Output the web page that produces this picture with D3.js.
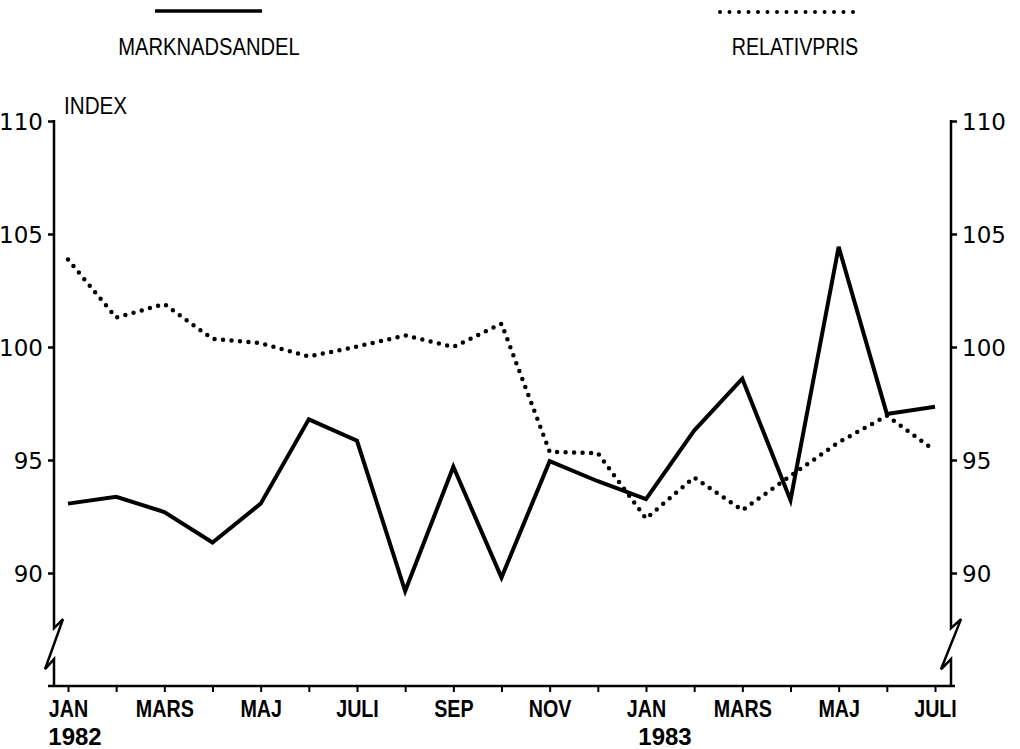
<!DOCTYPE html>
<html><head><meta charset="utf-8">
<script src="https://cdn.jsdelivr.net/npm/d3@7"></script>
<style>
body{margin:0;background:#fff}
.num{font-family:"DejaVu Sans",sans-serif;font-size:23px;fill:#000}
.lab{font-family:"Liberation Sans",sans-serif;font-size:24px;fill:#000}
.mon{font-family:"Liberation Sans",sans-serif;font-size:24px;font-weight:bold;fill:#000}
</style>
</head><body><svg id="c" width="1020" height="749"></svg>
<script>
// ---- data ----
const monthLabels = ["JAN","","MARS","","MAJ","","JULI","","SEP","","NOV","","JAN","","MARS","","MAJ","","JULI"];
const yearIndex = [0, 12];
const yearLabels = ["1982", "1983"];
const marknadsandel = [93.07,93.37,92.7,91.35,93.07,96.8,95.85,89.2,94.7,89.8,94.95,94.06,93.27,96.3,98.6,93.22,104.43,97.04,97.36];
const relativpris   = [103.87,101.3,101.9,100.36,100.17,99.58,100.02,100.51,100.0,101.03,95.37,95.3,92.41,94.23,92.78,94.3,95.78,96.96,95.41];
const yTicks = [90, 95, 100, 105, 110];
const seriesNames = ["MARKNADSANDEL", "RELATIVPRIS"];
const yAxisTitle = "INDEX";

// ---- layout ----
const svg = d3.select("#c");
const xL = 54, xR = 951;
const x = d3.scaleLinear().domain([0, monthLabels.length - 1]).range([68, 935]);
const y = d3.scaleLinear().domain([85, 110]).range([686, 121]);
const line = d3.line().x((d, i) => x(i)).y(d => y(d));

function condense(sel, k) {
  sel.each(function () {
    const w = this.getComputedTextLength();
    if (w > 0) d3.select(this).attr("textLength", w * k).attr("lengthAdjust", "spacingAndGlyphs");
  });
}

// left axis
const gl = svg.append("g").attr("transform", `translate(${xL},0)`)
  .call(d3.axisLeft(y).tickValues(yTicks).tickSize(6).tickPadding(5).tickFormat(d3.format("d")));
gl.select(".domain").remove();
gl.selectAll(".tick line").attr("stroke", "#000").attr("stroke-width", 2.5);
gl.selectAll(".tick text").attr("class", "num").attr("dy", "0.36em");

// right axis
const gr = svg.append("g").attr("transform", `translate(${xR},0)`)
  .call(d3.axisRight(y).tickValues(yTicks).tickSize(6).tickPadding(5).tickFormat(d3.format("d")));
gr.select(".domain").remove();
gr.selectAll(".tick line").attr("stroke", "#000").attr("stroke-width", 2.5);
gr.selectAll(".tick text").attr("class", "num").attr("dy", "0.36em");

// vertical axis lines with break
function brokenAxis(x0, w) {
  const p = d3.path();
  p.moveTo(x0, y(110) - 1);
  p.lineTo(x0, y(87.56));
  p.lineTo(x0 + w, y(87.96));
  p.lineTo(x0 - w, y(85.74));
  p.lineTo(x0, y(86.19));
  p.lineTo(x0, y(85) + 1);
  return p.toString();
}
svg.append("path").attr("d", brokenAxis(xL, 9)).attr("fill", "none").attr("stroke", "#000").attr("stroke-width", 2.5);
svg.append("path").attr("d", brokenAxis(xR, 10)).attr("fill", "none").attr("stroke", "#000").attr("stroke-width", 2.5);

// bottom axis
const gb = svg.append("g").attr("transform", `translate(0,${y(85)})`)
  .call(d3.axisBottom(x).tickValues(d3.range(monthLabels.length)).tickSize(6).tickPadding(8).tickFormat(i => monthLabels[i]));
gb.select(".domain").remove();
gb.selectAll(".tick line").attr("stroke", "#000").attr("stroke-width", 2);
gb.selectAll(".tick text").attr("class", "mon");
condense(gb.selectAll(".tick text"), 0.82);
svg.append("line").attr("x1", xL - 6).attr("x2", xR + 4).attr("y1", y(85)).attr("y2", y(85))
  .attr("stroke", "#000").attr("stroke-width", 2.5);

// year labels
const yearOffset = [7, 19];
svg.selectAll(".yr").data(yearLabels).join("text")
  .attr("class", "lab yr").attr("text-anchor", "middle")
  .attr("x", (d, i) => x(yearIndex[i]) + yearOffset[i]).attr("y", 745)
  .style("font-size", "24px").style("font-weight", "bold").text(d => d);

// axis title
const title = svg.append("text").attr("class", "lab").attr("x", 64).attr("y", 114).text(yAxisTitle);
condense(title, 0.86);

// series
svg.append("path").attr("d", line(relativpris)).attr("fill", "none").attr("stroke", "#000")
  .attr("stroke-width", 4.5).attr("stroke-linecap", "round").attr("stroke-dasharray", "0 8.5");
svg.append("path").attr("d", line(marknadsandel)).attr("fill", "none").attr("stroke", "#000")
  .attr("stroke-width", 4).attr("stroke-linejoin", "miter");

// legend
svg.append("line").attr("x1", 155).attr("x2", 262).attr("y1", 11).attr("y2", 11).attr("stroke", "#000").attr("stroke-width", 3.5);
const l1 = svg.append("text").attr("class", "lab").attr("x", 209).attr("y", 55).attr("text-anchor", "middle").text(seriesNames[0]);
condense(l1, 0.84);
svg.append("line").attr("x1", 720).attr("x2", 855).attr("y1", 12).attr("y2", 12).attr("stroke", "#000")
  .attr("stroke-width", 4).attr("stroke-linecap", "round").attr("stroke-dasharray", "0 9.5");
const l2 = svg.append("text").attr("class", "lab").attr("x", 795).attr("y", 55).attr("text-anchor", "middle").text(seriesNames[1]);
condense(l2, 0.82);
</script>
</body></html>
